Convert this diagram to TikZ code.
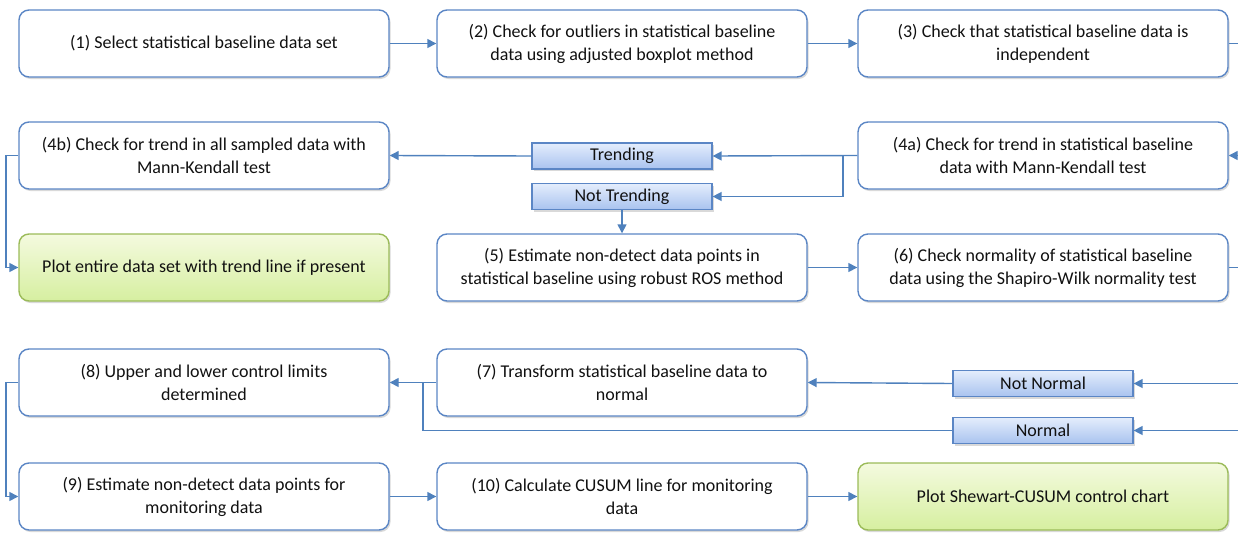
\documentclass[tikz,border=0pt]{standalone}
\usepackage{fontspec}
\setmainfont{Carlito}
\usetikzlibrary{arrows.meta,shadows}
\definecolor{bord}{HTML}{5B86C5}
\definecolor{ln}{HTML}{4F81BD}
\definecolor{grbord}{HTML}{9BBB59}
\definecolor{grtop}{HTML}{F4FADF}
\definecolor{grbot}{HTML}{D6EFA0}
\definecolor{labtop}{HTML}{E4EDFC}
\definecolor{labbot}{HTML}{A9C3EF}
\definecolor{txt}{HTML}{111111}
\begin{document}
\begin{tikzpicture}[x=1pt,y=-1pt,
  font=\fontsize{18}{23}\selectfont, text=txt,
  box/.style={draw=bord, line width=1.4pt, rounded corners=10pt, fill=white,
    minimum width=370pt, minimum height=67pt, align=center, inner sep=0pt,
    drop shadow={shadow xshift=1.5pt,shadow yshift=-2pt,opacity=0.3}},
  endbox/.style={box, draw=grbord, top color=grtop, bottom color=grbot},
  lab/.style={draw=bord, line width=1.2pt, top color=labtop, bottom color=labbot,
    minimum width=180pt, minimum height=26pt, inner sep=0pt,
    drop shadow={shadow xshift=1.5pt,shadow yshift=-2pt,opacity=0.3}},
  conn/.style={draw=ln, line width=1.4pt, -{Triangle[length=9pt,width=9pt]}},
  plain/.style={draw=ln, line width=1.4pt}]
\useasboundingbox (0,0) rectangle (1238,533);
% row 1
\node[box] (b1) at (204,43.5) {(1) Select statistical baseline data set};
\node[box] (b2) at (622,43.5) {(2) Check for outliers in statistical baseline\\data using adjusted boxplot method};
\node[box] (b3) at (1043,43.5) {(3) Check that statistical baseline data is\\independent};
% row 2
\node[box] (b4b) at (204,155.5) {(4b) Check for trend in all sampled data with\\Mann-Kendall test};
\node[box] (b4a) at (1043,155.5) {(4a) Check for trend in statistical baseline\\data with Mann-Kendall test};
\node[lab] (tr) at (622,156) {Trending};
\node[lab] (ntr) at (622,196.5) {Not Trending};
% row 3
\node[endbox] (p1) at (204,267.5) {Plot entire data set with trend line if present};
\node[box] (b5) at (622,267.5) {(5) Estimate non-detect data points in\\statistical baseline using robust ROS method};
\node[box] (b6) at (1043,267.5) {(6) Check normality of statistical baseline\\data using the Shapiro-Wilk normality test};
% row 4
\node[box] (b8) at (204,382.5) {(8) Upper and lower control limits\\determined};
\node[box] (b7) at (622,382.5) {(7) Transform statistical baseline data to\\normal};
\node[lab] (nn) at (1043,383.5) {Not Normal};
\node[lab] (no) at (1043,430.5) {Normal};
% row 5
\node[box] (b9) at (204,496.5) {(9) Estimate non-detect data points for\\monitoring data};
\node[box] (b10) at (622,496.5) {(10) Calculate CUSUM line for monitoring\\data};
\node[endbox] (p2) at (1043,496.5) {Plot Shewart-CUSUM control chart};
% free ends and joints
\coordinate (e1) at (1238,43.5);
\coordinate (e2) at (1238,155.5);
\coordinate (e3) at (1238,267.5);
\coordinate (e4) at (1238,383.5);
\coordinate (e5) at (1238,430.5);
\coordinate (j1) at (843,155.5);
\coordinate (j2) at (423,382.5);
\coordinate (k1) at (6,155.5);
\coordinate (k2) at (6,382.5);
% connectors
\draw[conn] (b1) -- (b2);
\draw[conn] (b2) -- (b3);
\draw[plain] (b3.east) -- (e1);
\draw[conn] (e2) -- (b4a.east);
\draw[conn] (b4a.west) -- (tr.east);
\draw[conn] (j1) |- (ntr.east);
\draw[conn] (tr.west) -- (b4b.east);
\draw[conn] (ntr.south) -- (b5.north);
\draw[conn] (b4b.west) -- (k1) |- (p1.west);
\draw[conn] (b5) -- (b6);
\draw[plain] (b6.east) -- (e3);
\draw[conn] (e4) -- (nn.east);
\draw[conn] (nn.west) -- (b7.east);
\draw[conn] (e5) -- (no.east);
\draw[plain] (no.west) -| (j2);
\draw[conn] (b7.west) -- (b8.east);
\draw[conn] (b8.west) -- (k2) |- (b9.west);
\draw[conn] (b9) -- (b10);
\draw[conn] (b10) -- (p2);
\end{tikzpicture}
\end{document}
